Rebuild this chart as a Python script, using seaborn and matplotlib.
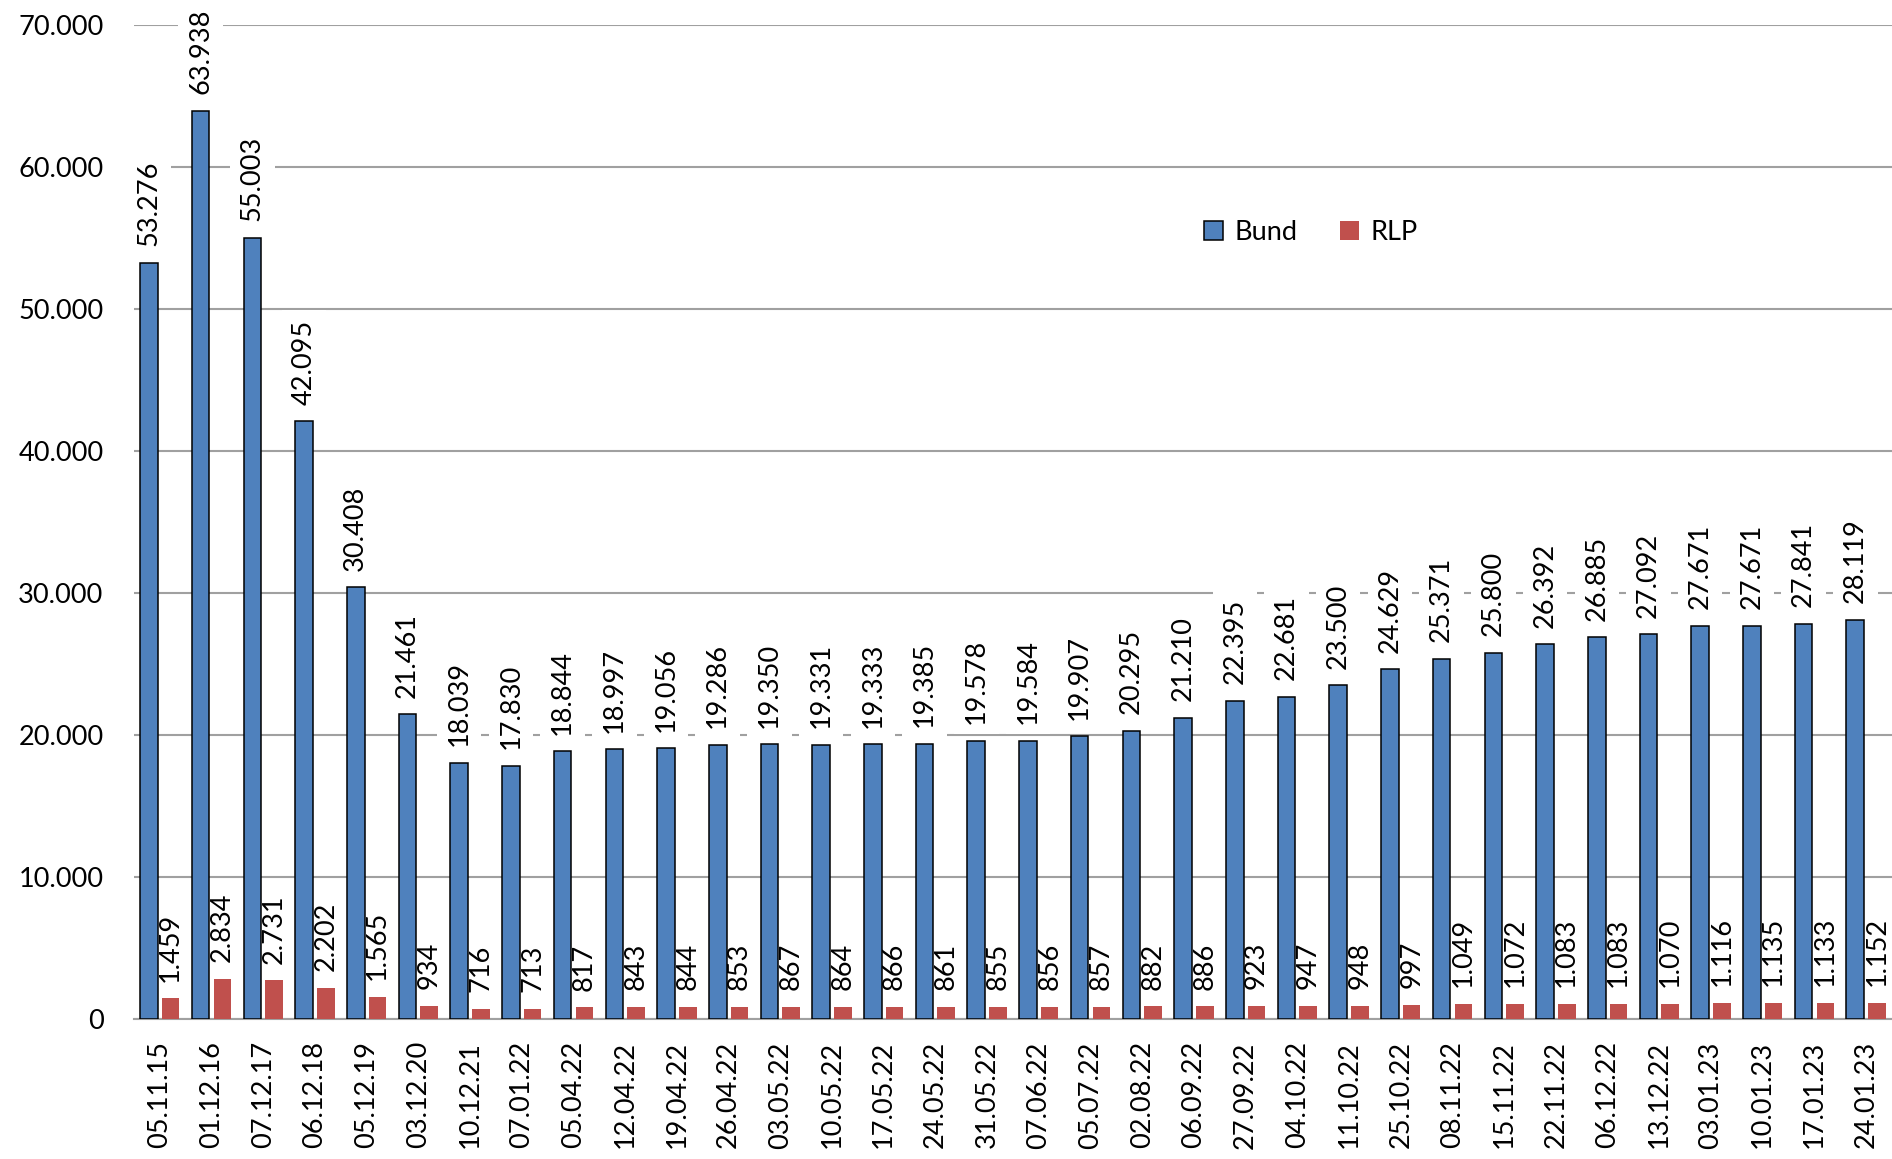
import matplotlib.pyplot as plt
import matplotlib.ticker as ticker
from matplotlib.patches import Patch
import pandas as pd
import seaborn as sns

dates = ["05.11.15", "01.12.16", "07.12.17", "06.12.18", "05.12.19", "03.12.20",
         "10.12.21", "07.01.22", "05.04.22", "12.04.22", "19.04.22", "26.04.22",
         "03.05.22", "10.05.22", "17.05.22", "24.05.22", "31.05.22", "07.06.22",
         "05.07.22", "02.08.22", "06.09.22", "27.09.22", "04.10.22", "11.10.22",
         "25.10.22", "08.11.22", "15.11.22", "22.11.22", "06.12.22", "13.12.22",
         "03.01.23", "10.01.23", "17.01.23", "24.01.23"]
bund = [53276, 63938, 55003, 42095, 30408, 21461, 18039, 17830, 18844, 18997,
        19056, 19286, 19350, 19331, 19333, 19385, 19578, 19584, 19907, 20295,
        21210, 22395, 22681, 23500, 24629, 25371, 25800, 26392, 26885, 27092,
        27671, 27671, 27841, 28119]
rlp = [1459, 2834, 2731, 2202, 1565, 934, 716, 713, 817, 843, 844, 853, 867,
       864, 866, 861, 855, 856, 857, 882, 886, 923, 947, 948, 997, 1049, 1072,
       1083, 1083, 1070, 1116, 1135, 1133, 1152]
series = ["Bund", "RLP"]
colors = {"Bund": "#4F81BD", "RLP": "#C0504D"}

df = pd.DataFrame({
    "date": dates * 2,
    "series": ["Bund"] * len(dates) + ["RLP"] * len(dates),
    "value": bund + rlp,
})


def de(v):
    return f"{int(v):,}".replace(",", ".")


fontSize = 19.5
plt.rcParams["font.family"] = ["Lato", "DejaVu Sans"]

fig = plt.figure(figsize=(18.92, 11.59), dpi=100)
ax = fig.add_axes([0.0708, 0.1208, 0.9292, 0.8576])

sns.barplot(data=df, x="date", y="value", hue="series", hue_order=series,
            palette=colors, saturation=1, width=0.84, gap=0.19,
            edgecolor="black", linewidth=1.1, legend=False, ax=ax, zorder=3)

for p in ax.containers[1]:
    p.set_edgecolor("none")

for cont, vals in zip(ax.containers, [bund, rlp]):
    anns = ax.bar_label(cont, labels=[de(v) for v in vals], rotation=90,
                        padding=12, fontsize=fontSize, clip_on=False,
                        bbox=dict(boxstyle="square,pad=0.36", fc="white", ec="none"))
    for a in anns:
        a.set_zorder(2)

ax.set_ylim(0, 70000)
ax.set_xlim(-0.5, len(dates) - 0.5)
ax.yaxis.set_major_locator(ticker.MultipleLocator(10000))
ax.yaxis.set_major_formatter(ticker.FuncFormatter(lambda v, p: de(v)))
ax.set_axisbelow(True)
ax.grid(axis="y", color="#a0a0a0", linewidth=1.5, zorder=0)
ax.grid(axis="x", visible=False)
for s in ["top", "right", "left"]:
    ax.spines[s].set_visible(False)
ax.spines["bottom"].set_color("#a0a0a0")
ax.spines["bottom"].set_linewidth(1.5)
ax.tick_params(axis="y", length=0, pad=22, labelsize=fontSize)
ax.tick_params(axis="x", length=0, pad=16, labelsize=fontSize, labelrotation=90)
ax.set_xlabel("")
ax.set_ylabel("")

handles = [Patch(facecolor=colors["Bund"], edgecolor="black", linewidth=1.1, label="Bund"),
           Patch(facecolor=colors["RLP"], edgecolor="none", label="RLP")]
ax.legend(handles=handles, loc="center left", bbox_to_anchor=(0.595, 0.791),
          ncol=2, frameon=False, fontsize=fontSize, handlelength=0.7,
          handleheight=0.7, handletextpad=0.4, columnspacing=1.6)

plt.savefig("out.png", dpi=100)
